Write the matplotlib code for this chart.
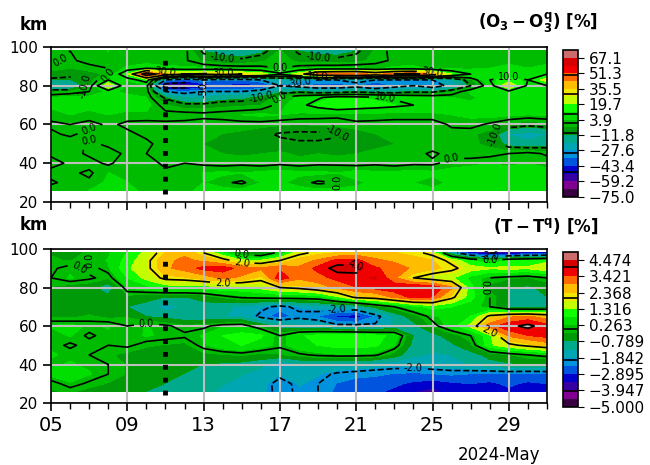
import numpy as np
import matplotlib.pyplot as plt

# day of May, one column per day
DAYS = list(range(5, 32))
XTICKS = [5, 9, 13, 17, 21, 25, 29]
XTICK_LABELS = ['05', '09', '13', '17', '21', '25', '29']
YTICKS = [20, 40, 60, 80, 100]
KEY_DAY = 11

# ozone difference [%], rows = altitude (km)
ALT_O3 = [26, 30, 35, 40, 45, 50, 55, 60, 65, 70, 74, 77, 80, 83, 86, 89, 93, 98]
O3_DIFF = [
    [3, 2, 4, 6, 5, 3, 2, 3, 5, 6, 5, 6, 5, 6, 5, 6, 5, 6, 5, 6, 5, 6, 6, 5, 6, 5, 6],
    [-1, 2, 1, 5, 4, 2, 1, 2, 4, 1, -1, 4, 5, 2, -1, 0, 3, 5, 6, 4, 2, 5, 6, 5, 4, 6, 5],
    [2, 1, -1, 4, 3, 1, 1, 3, 4, 5, 4, 5, 6, 5, 5, 4, 6, 5, 5, 6, 5, 6, 6, 5, 6, 5, 5],
    [-2, 1, 2, -1, 3, 2, -1, 0, -1, -2, -1, -2, -1, -2, -1, -1, -2, -1, -2, -1, -1, 2, 3, 4, 3, 4, 3],
    [1, 2, -1, -2, 1, 0, -2, -3, -3, -4, -5, -4, -3, -5, -4, -5, -4, -3, -3, -2, 1, -2, -3, -2, 0, 2, -1],
    [0, 3, -1, 1, 2, 1, -2, -3, -4, -5, -5, -6, -8, -9, -9, -8, -6, -5, -4, -3, -3, -2, -3, -5, -15, -18, -16],
    [1, -1, 2, 0, 1, -1, -2, -3, -3, -4, -5, -8, -11, -12, -12, -11, -7, -4, -3, -3, -2, -2, -3, -6, -20, -22, -20],
    [-1, 0, -2, 1, -1, -2, -1, -2, -3, -3, -2, -2, -3, -4, -3, -2, -1, -2, -1, -2, -3, 1, 2, -1, -5, -8, -6],
    [2, 4, 3, 4, 2, 3, 2, 3, 2, 3, 4, 5, 4, 3, 2, 1, 2, 3, 1, 2, 3, 4, 5, 6, 5, 4, 5],
    [5, 6, 5, 6, 7, 6, -3, -8, -8, -6, -5, -4, 2, 8, 13, 18, 15, 13, 12, 10, 7, 6, 5, 6, 5, 6, 5],
    [4, 5, 5, 6, 5, 4, -12, -20, -20, -15, -15, -10, 0, 5, 9, 13, 12, 11, 9, 6, 5, 4, 3, 6, 7, 6, 5],
    [-5, -3, 0, 5, 3, 3, -30, -35, -30, -30, -30, -25, -15, -12, -15, -15, -12, -15, -15, -12, -12, -5, 5, 8, 8, 5, 5],
    [-22, -25, -5, 30, 0, 3, -62, -60, -50, -45, -50, -45, -30, -35, -40, -40, -35, -45, -35, -30, -38, -25, -10, 5, 30, 8, 10],
    [-12, -12, -8, 10, 5, 15, -30, -40, -30, -35, -35, -30, -20, -25, -30, -30, -25, -30, -30, -30, -30, -20, -5, 10, 15, 10, 25],
    [-5, -8, -6, -3, 20, 60, 40, 30, 32, 35, 30, 25, 12, 25, 45, 48, 50, 40, 50, 55, 40, 20, 10, 5, 5, 5, 10],
    [-3, -4, -2, 0, 5, 10, 5, 5, 5, 4, 3, 2, 0, 3, 5, 5, 5, 3, 5, 5, 3, 2, 3, 4, 5, 4, 5],
    [1, -1, 2, 3, 1, 0, 2, 1, -5, -8, -8, -5, -1, -6, -8, -8, -6, -2, 1, 2, 3, 2, 1, 2, 3, 2, 3],
    [2, 0, 3, 4, 0, 1, 3, 2, -12, -15, -18, -14, -3, -12, -14, -15, -12, -3, 2, 3, 2, 1, 2, 3, 2, 3, 2],
]

# temperature difference [%], rows = altitude (km)
ALT_T = [26, 30, 35, 40, 45, 50, 55, 60, 65, 70, 75, 80, 85, 90, 94, 98]
T_DIFF = [
    [-0.3, -0.2, -0.4, -0.5, -0.7, -0.8, -0.9, -1.0, -1.2, -1.4, -1.5, -1.7, -2.2, -1.9, -2.0, -2.5, -2.7, -2.8, -3.0, -3.4, -3.6, -3.2, -3.0, -3.2, -3.0, -3.2, -3.4],
    [-0.2, 0.2, -0.1, -0.3, -0.5, -0.6, -0.8, -0.9, -1.1, -1.3, -1.4, -1.6, -2.3, -1.8, -2.0, -2.4, -2.6, -2.6, -2.8, -3.0, -3.2, -3.0, -2.9, -3.0, -2.8, -3.0, -2.9],
    [0.4, 0.6, 0.3, 0.0, -0.3, -0.6, -0.7, -0.8, -1.0, -1.2, -1.3, -1.5, -1.8, -1.6, -1.8, -2.1, -2.2, -2.3, -2.4, -2.5, -2.4, -2.3, -2.4, -2.5, -2.4, -2.5, -2.4],
    [0.2, 0.3, 0.2, 0.0, -0.3, -0.5, -0.6, -0.7, -0.8, -0.9, -1.0, -1.2, -2.0, -1.4, -1.3, -1.4, -1.5, -1.6, -1.7, -1.7, -1.6, -1.5, -1.3, -1.0, -0.9, -0.8, -0.9],
    [0.3, 0.2, 0.0, -0.2, -0.4, -0.5, -0.6, -0.5, -0.4, -0.3, -0.2, -0.4, -0.3, -0.1, 0.1, 0.2, 0.2, 0.1, -0.5, -1.2, -1.4, -1.3, -1.0, -0.6, -0.3, 0.0, 0.2],
    [0.2, -0.1, 0.2, 0.0, 0.1, -0.2, -0.3, -0.4, 0.2, 0.6, 0.8, 0.5, 0.1, 0.6, 0.8, 1.0, 1.0, 0.9, 0.3, -1.0, -1.1, -0.9, -0.4, 1.2, 1.8, 2.2, 2.6],
    [0.1, 0.3, -0.1, 0.2, 0.1, 0.3, 0.2, 0.1, 0.3, 0.8, 1.0, 0.9, 0.0, 0.7, 1.0, 1.2, 1.1, 1.0, 0.6, -0.8, -1.0, -0.5, 0.0, 1.2, 3.0, 3.4, 3.6],
    [0.3, 0.4, 0.2, 0.3, 0.0, 0.3, 0.1, -0.2, -0.1, 0.2, 0.3, -0.4, -1.0, -1.2, -1.4, -1.8, -1.8, -1.9, -1.2, -1.0, -0.2, 0.5, 1.5, 3.2, 3.8, 4.2, 3.6],
    [-0.3, -0.4, -0.2, -0.4, -0.3, -0.8, -1.0, -1.2, -1.2, -1.3, -1.4, -2.2, -2.6, -2.2, -2.4, -3.0, -3.2, -2.3, -1.2, -0.5, 0.2, 0.4, 0.8, 2.2, 2.8, 3.0, 2.6],
    [-0.5, -0.4, -0.6, -0.7, -0.8, -1.0, -1.6, -1.2, -1.0, -1.2, -1.4, -1.8, -2.2, -1.8, -1.6, -1.5, -1.4, -0.6, 0.0, 0.6, 1.0, 0.8, 0.5, 0.0, -0.9, -1.0, -0.9],
    [-0.4, -0.3, -0.5, -0.6, -0.4, -0.6, -0.8, -0.8, -0.6, -0.2, 0.1, 0.2, 0.3, 0.3, 0.4, 1.2, 2.2, 2.4, 3.0, 3.6, 3.4, 2.2, 1.0, 0.0, -0.8, -1.0, -0.8],
    [-0.3, -0.5, -0.6, -1.2, 0.3, 0.6, 1.0, 1.0, 1.0, 1.2, 1.2, 1.5, 2.0, 2.2, 2.6, 3.0, 3.4, 3.6, 3.8, 4.0, 3.9, 3.0, 1.0, -0.4, -0.8, -0.9, -0.6],
    [0.0, 0.3, 0.1, -0.2, 0.8, 1.5, 2.2, 2.3, 2.6, 3.0, 2.8, 2.2, 3.8, 3.0, 3.2, 3.6, 3.8, 4.0, 3.0, 2.0, 1.6, 1.4, 0.6, 0.0, -0.2, -0.3, 0.0],
    [-0.1, 0.2, -0.2, 0.2, 1.2, 1.8, 2.8, 3.1, 3.6, 3.7, 3.2, 3.0, 3.3, 3.0, 3.6, 4.3, 4.2, 3.5, 3.2, 2.8, 2.5, 2.2, 1.6, 1.4, 1.5, 1.4, 1.8],
    [-0.2, -0.3, 0.0, 0.3, 1.0, 1.8, 2.8, 3.0, 2.8, 2.4, 1.5, 1.4, 2.0, 2.6, 3.0, 3.6, 3.6, 3.0, 2.8, 2.6, 2.4, 1.8, 0.8, 0.4, 0.8, 1.0, 1.2],
    [-0.3, -0.4, -0.2, 0.2, 0.8, 1.5, 2.4, 2.8, 2.0, 0.8, -0.5, -0.8, 0.3, 1.8, 2.2, 2.4, 2.6, 2.6, 2.4, 2.2, 1.8, -1.5, -3.2, -4.1, -3.8, -3.4, -3.4],
]

O3_RANGE = (-75, 75)
T_RANGE = (-5, 5)
O3_LINES = [-50, -30, -10, 0, 10, 30, 50]
T_LINES = [-4, -2, 0, 2, 4]


def draw_panel(ax, cax, alt, values, vrange, lines, cb_fmt):
    levels = np.linspace(vrange[0], vrange[1], 20)
    X, Y = np.meshgrid(DAYS, alt)
    Z = np.array(values, dtype=float)
    cf = ax.contourf(X, Y, Z, levels=levels, cmap='nipy_spectral')
    cs = ax.contour(X, Y, Z, levels=lines, colors='k', linewidths=1.2)
    ax.clabel(cs, fmt='%.1f', fontsize=7, inline=True)
    ax.plot([KEY_DAY, KEY_DAY], [24, 97], color='k', ls=':', lw=3.5, zorder=5)

    ax.set_xlim(DAYS[0], DAYS[-1])
    ax.set_ylim(20, 100)
    ax.set_xticks(XTICKS)
    ax.set_xticklabels(XTICK_LABELS)
    ax.set_xticks(DAYS, minor=True)
    ax.set_yticks(YTICKS)
    ax.tick_params(axis='x', which='major', direction='out', length=6, width=1.2, labelsize=14)
    ax.tick_params(axis='x', which='minor', direction='out', length=4, width=1.0)
    ax.tick_params(axis='y', direction='out', length=6, width=1.2, labelsize=11)
    ax.grid(True, which='major', color='0.75', lw=1.5)
    for s in ax.spines.values():
        s.set_linewidth(1.2)

    ticks = levels[::2]
    cb = plt.colorbar(cf, cax=cax, ticks=ticks)
    cb.add_lines(cs)
    cb.ax.set_yticklabels([(cb_fmt % t).replace('-', '\u2212') for t in ticks])
    cb.ax.tick_params(labelsize=11, length=4)
    cb.outline.set_linewidth(1.2)


fig = plt.figure(figsize=(6.5, 4.65), dpi=100)
ax1 = fig.add_axes([0.0785, 0.5656, 0.763, 0.3334])
ax2 = fig.add_axes([0.0785, 0.1333, 0.763, 0.3312])
cax1 = fig.add_axes([0.8667, 0.577, 0.023, 0.315])
cax2 = fig.add_axes([0.8667, 0.1254, 0.023, 0.333])

draw_panel(ax1, cax1, ALT_O3, O3_DIFF, O3_RANGE, O3_LINES, '%.1f')
draw_panel(ax2, cax2, ALT_T, T_DIFF, T_RANGE, T_LINES, '%.3f')
ax1.tick_params(axis='x', labelbottom=False)

ax1.text(-0.035, 1.14, 'km', transform=ax1.transAxes, fontsize=12,
         fontweight='bold', ha='center', va='center')
ax2.text(-0.035, 1.155, 'km', transform=ax2.transAxes, fontsize=12,
         fontweight='bold', ha='center', va='center')
ax1.text(1.103, 1.16, r'$\mathbf{(O_3-O_3^q)}$ [%]', transform=ax1.transAxes,
         fontsize=12, fontweight='bold', ha='right', va='center')
ax2.text(1.103, 1.15, r'$\mathbf{(T-T^q)}$ [%]', transform=ax2.transAxes,
         fontsize=12, fontweight='bold', ha='right', va='center')
ax2.text(0.986, -0.34, '2024-May', transform=ax2.transAxes, fontsize=12,
         ha='right', va='center')

fig.savefig('out.png', dpi=100)
